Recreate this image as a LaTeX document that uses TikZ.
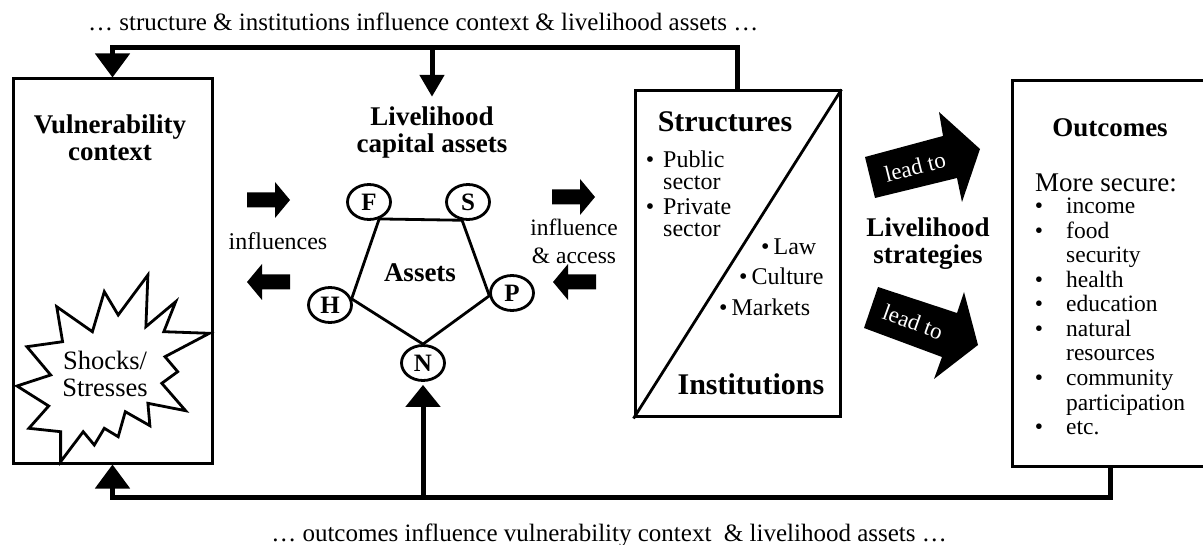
\documentclass[tikz,border=0pt]{standalone}
\usepackage{fontspec}
\setmainfont{Liberation Serif}
\usetikzlibrary{arrows.meta,shapes.geometric}

\tikzset{
  box/.style={draw, line width=3pt, inner sep=0pt},
  link/.style={line width=5pt},
  bigtip/.style={-{Triangle[width=34pt,length=24pt]}},
  asset/.style={ellipse, draw, line width=2.8pt, minimum width=43pt, minimum height=35pt,
    inner sep=0pt, font=\fontsize{25}{25}\selectfont\bfseries},
  head/.style={font=\fontsize{27}{27}\selectfont\bfseries, align=center, inner sep=0pt},
  txt/.style={font=\fontsize{24}{24}\selectfont, inner sep=0pt},
  small/.style={font=\fontsize{23.5}{24.5}\selectfont, inner sep=0pt},
}

\begin{document}
\begin{tikzpicture}[x=1pt,y=-1pt]
  \useasboundingbox (0,0) rectangle (1203,545);
  \clip (0,0) rectangle (1203,545);
   \coordinate (topl) at (0,48);
   \coordinate (botl) at (0,497);
% shocks burst, drawn under the context box
  \draw[line width=2.8pt, fill=white] plot coordinates {(60.6,461.7) (83.2,431.7) (94.3,445)
    (104.3,428.3) (118.2,436.7) (125.3,411.7) (149.9,425.7) (147.9,403.3) (185.6,410.7)
    (161.8,383.3) (177.7,371.7) (165,356.7) (209.4,333.3) (163.8,331.7) (175.7,301.7)
    (145.9,326.7) (147.9,275) (118.2,315) (104.3,291.7) (92.4,331.7) (56.7,306.7)
    (62.6,341.7) (26.9,346.7) (50.7,375) (17,386) (48.7,406) (28.9,428.3) (60.6,431.7)} -- cycle;
  \node[box, minimum width=199pt, minimum height=384pt] (vul) at (112.5,271) {};
  \node[head] (vultitle) at (110,138.2) {Vulnerability\\context};
  \node[font=\fontsize{26.5}{27}\selectfont, align=center, inner sep=0pt] (shocks) at (105,373.5) {Shocks/\\Stresses};

% influence arrows
  \foreach \x/\y/\s in {247/200/1, 290/282/-1, 552/197/1, 596/282/-1}{%
    \fill[shift={(\x,\y)}, xscale=\s] (0,-7.5) -- (28,-7.5) -- (28,-18) -- (43,0)
      -- (28,18) -- (28,7.5) -- (0,7.5) -- cycle;
  }
  \node[txt, anchor=base] (infl) at (278,250) {influences};
  \node[txt, font=\fontsize{23.5}{28}\selectfont, align=center] (infacc) at (574,241) {influence\\\& access};

% capital assets pentagon
  \node[head, inner ysep=10pt] (lca) at (432,132.7) {Livelihood\\capital assets};
  \node[asset] (F) at (369,202) {F};
  \node[asset] (S) at (468,202) {S};
  \node[asset] (H) at (330,305) {H};
  \node[asset] (P) at (512,293) {P};
  \node[asset] (N) at (423,363) {N};
  \draw[line width=2.8pt] (F.-59) -- (S.-108) -- (P.187) -- (N.90) -- (H.16) -- (F.-59);
  \node[head, anchor=base] (assets) at (420,282) {Assets};

% structures / institutions
  \node[box, minimum width=205pt, minimum height=326pt] (str) at (737.5,254) {};
  \draw[line width=2.8pt] (str.south west) -- (str.north east);
  \node[font=\fontsize{30}{30}\selectfont\bfseries, inner sep=0pt, anchor=base] (strtitle) at (725,132) {Structures};
  \node[font=\fontsize{30}{30}\selectfont\bfseries, inner sep=0pt, anchor=base] (insttitle) at (751,395) {Institutions};
  \foreach \b/\t/\y [count=\i] in {1/Public/168, 0/sector/190, 1/Private/215, 0/sector/237}{%
    \node[txt, anchor=base west] (sec\i) at (663,\y) {\t};
    \ifnum\b=1 \node[txt, anchor=base] (secb\i) at (650,\y) {\textbullet};\fi
  }
  \foreach \t/\x/\y [count=\i] in {Law/761/255, Culture/739/285, Markets/719/316}{%
    \node[txt, anchor=base west] (inst\i) at (\x,\y) {\textbullet\,\t};
  }

% strategies
  \fill (865,157) -- (943,136) -- (939,112) -- (980,149) -- (962,202) -- (957,178) -- (875,198) -- cycle;
  \fill (878,287) -- (957,313) -- (964,292) -- (978,345) -- (934,379) -- (942,357) -- (864,328) -- cycle;
  \node[txt, font=\fontsize{23}{23}\selectfont, white, rotate=14] (lead1) at (915,167) {lead to};
  \node[txt, font=\fontsize{23}{23}\selectfont, white, rotate=-20] (lead2) at (913,322) {lead to};
  \node[head] (ls) at (928,244) {Livelihood\\strategies};

% outcomes
  \node[box, minimum width=196pt, minimum height=385pt] (out) at (1110,273.5) {};
  \node[head, anchor=base] (outtitle) at (1110,137) {Outcomes};
  \node[font=\fontsize{27}{27}\selectfont, anchor=base west, inner sep=0pt] (more) at (1035,192) {More secure:};
  \foreach \b/\t [count=\i from 0] in {1/income, 1/food, 0/security, 1/health, 1/education,
      1/natural, 0/resources, 1/community, 0/participation, 1/etc.}{%
    \node[small, anchor=base west] (o\i) at (1066,214+24.5*\i) {\t};
    \ifnum\b=1 \node[small, anchor=base] (ob\i) at (1039,214+24.5*\i) {\textbullet};\fi
  }

% feedback loops
  \draw[link, bigtip] (str.north) -- (str.north |- topl) -| (vul.north);
  \draw[link, -{Triangle[width=24pt,length=22pt]}] (lca.north |- topl) -- (lca.north);
  \draw[link, bigtip] (out.south) -- (out.south |- botl) -| (vul.south);
  \draw[link, -{Triangle[width=34pt,length=22pt]}] (N.south |- botl) -- ([yshift=-3pt]N.south);
  \node[font=\fontsize{25}{25}\selectfont, anchor=base west, inner sep=0pt] (toptxt) at (88,31)
    {… structure \& institutions influence context \& livelihood assets …};
  \node[font=\fontsize{25}{25}\selectfont, anchor=base east, inner sep=0pt] (bottxt) at (947,541)
    {… outcomes influence vulnerability context\ \ \& livelihood assets …};
\end{tikzpicture}
\end{document}
